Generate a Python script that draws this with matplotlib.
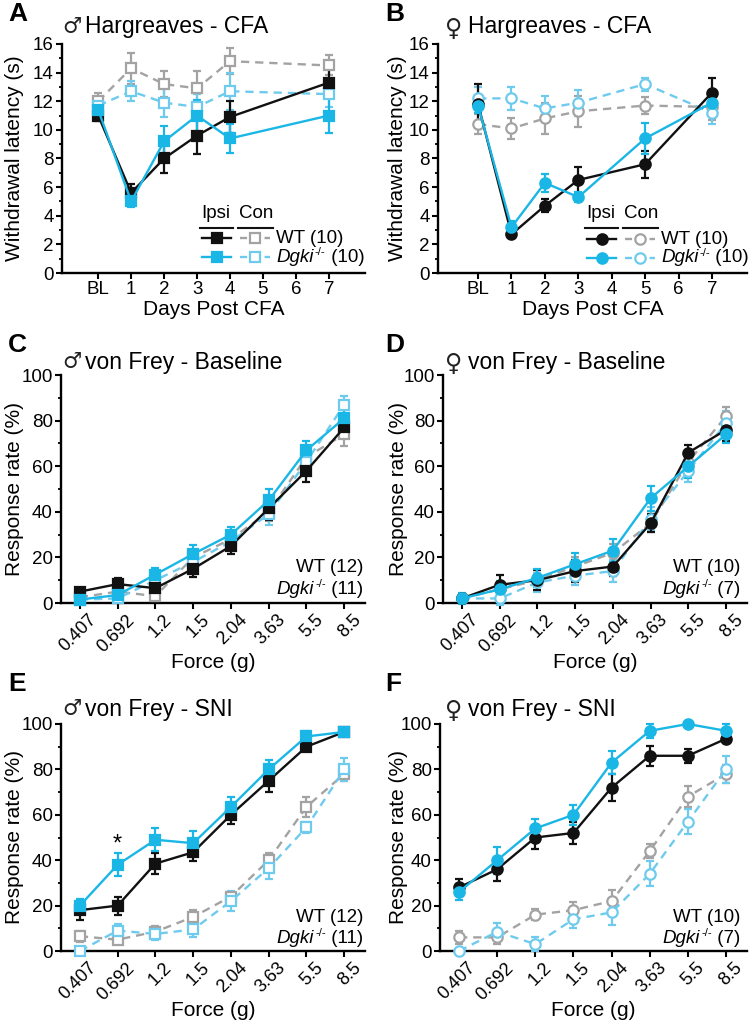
import numpy as np
import matplotlib
matplotlib.use('Agg')
import matplotlib.pyplot as plt
from matplotlib.lines import Line2D
from matplotlib.ticker import MultipleLocator
from matplotlib.transforms import ScaledTranslation

plt.rcParams['font.family'] = ['Liberation Sans', 'DejaVu Sans']

# ---- data ----
day_ticks = [0, 1, 2, 3, 4, 5, 6, 7]
day_labels = ['BL', '1', '2', '3', '4', '5', '6', '7']
days_a = [0, 1, 2, 3, 4, 7]
days_b = [0, 1, 2, 3, 5, 7]
forces = ['0.407', '0.692', '1.2', '1.5', '2.04', '3.63', '5.5', '8.5']

# A: male Hargreaves CFA
a_ipsi_wt = [11.0, 5.6, 8.0, 9.6, 10.9, 13.3]
a_ipsi_wt_err = [0.4, 0.6, 1.0, 1.3, 1.1, 1.1]
a_ipsi_ko = [11.4, 5.0, 9.2, 11.0, 9.4, 11.0]
a_ipsi_ko_err = [0.5, 0.4, 1.1, 1.1, 1.0, 1.2]
a_con_wt = [12.0, 14.3, 13.2, 12.9, 14.8, 14.5]
a_con_wt_err = [0.6, 1.1, 0.9, 1.2, 0.9, 0.7]
a_con_ko = [11.7, 12.7, 11.9, 11.6, 12.7, 12.5]
a_con_ko_err = [0.5, 0.7, 1.0, 0.9, 1.3, 0.9]

# B: female Hargreaves CFA
b_ipsi_wt = [11.8, 2.7, 4.7, 6.5, 7.6, 12.6]
b_ipsi_wt_err = [1.4, 0.2, 0.45, 0.9, 0.95, 1.0]
b_ipsi_ko = [11.7, 3.2, 6.3, 5.3, 9.4, 11.9]
b_ipsi_ko_err = [0.5, 0.4, 0.65, 0.35, 1.1, 0.8]
b_con_wt = [10.4, 10.1, 10.8, 11.3, 11.7, 11.6]
b_con_wt_err = [0.7, 0.75, 1.1, 1.1, 0.6, 0.9]
b_con_ko = [12.2, 12.2, 11.5, 11.9, 13.2, 11.2]
b_con_ko_err = [0.8, 0.8, 0.9, 0.9, 0.45, 0.8]

# C: male von Frey baseline
c_ipsi_wt = [5, 8.3, 6.5, 15, 25, 41.5, 58, 77]
c_ipsi_wt_err = [1.5, 2.5, 3, 3.5, 3.5, 5, 5, 4]
c_ipsi_ko = [1.5, 3.5, 12.5, 21.5, 30, 45, 67, 81]
c_ipsi_ko_err = [1.5, 3, 3, 4, 3.5, 5, 4, 4]
c_con_wt = [2.5, 5, 3, 20, 28, 40, 64, 74]
c_con_wt_err = [2, 2, 2, 3, 3, 4, 5, 5]
c_con_ko = [1.5, 2, 10, 18, 27, 39, 62, 87]
c_con_ko_err = [1.5, 2, 3, 3, 3, 5, 5, 4]

# D: female von Frey baseline
d_ipsi_wt = [2, 8, 10, 14, 16, 35, 66, 76]
d_ipsi_wt_err = [2, 4.5, 4.5, 5, 4, 4, 3.5, 5]
d_ipsi_ko = [2, 6, 11, 17, 23, 46, 60, 74]
d_ipsi_ko_err = [2.5, 3.5, 4, 5, 5, 5.5, 5, 4]
d_con_wt = [2, 6, 10, 16, 22, 35, 62, 82]
d_con_wt_err = [2, 3, 3, 4, 4, 4, 5, 4]
d_con_ko = [2, 2, 9, 12, 14, 37, 58, 79]
d_con_ko_err = [2, 3, 4, 4, 5, 5, 5, 5]

# E: male von Frey SNI
e_ipsi_wt = [18, 20, 38.5, 43.5, 60, 75, 90, 96.5]
e_ipsi_wt_err = [4.5, 4, 4.5, 4, 4, 5, 2, 1.5]
e_ipsi_ko = [20, 38, 49, 47.5, 63.5, 80, 94.5, 96.5]
e_ipsi_ko_err = [3, 5, 5, 5.5, 4.5, 4, 2.5, 1.5]
e_con_wt = [6.5, 5, 8.5, 15, 24, 40, 63.5, 78]
e_con_wt_err = [2.5, 2, 2.5, 3, 2, 3, 4.5, 3]
e_con_ko = [0, 9, 7.5, 9.5, 22, 36.5, 54.5, 80]
e_con_ko_err = [0, 3, 2.5, 3.5, 4.5, 5, 2.5, 5]

# F: female von Frey SNI
f_ipsi_wt = [28, 36, 50, 52, 72, 86, 86, 93.5]
f_ipsi_wt_err = [3.5, 5, 5, 5, 6, 4.5, 3, 2]
f_ipsi_ko = [26, 40, 54, 60, 83, 97, 100, 97]
f_ipsi_ko_err = [3.5, 6, 4, 4.5, 5, 3, 0, 3]
f_con_wt = [6, 6, 16, 18, 22, 44, 68, 78]
f_con_wt_err = [3, 3, 2.5, 3.5, 5, 3, 4.5, 4]
f_con_ko = [0, 8.5, 3, 14, 17, 34, 57, 80]
f_con_ko_err = [0, 4, 3, 4, 5.5, 5.5, 5.5, 6]

BLACK = '#111111'
CYAN = '#1ab7e6'
GRAY = '#a3a3a3'
LBLUE = '#6fcbee'

W, H = 750, 1022
fig = plt.figure(figsize=(W / 100, H / 100), dpi=100)
renderer = fig.canvas.get_renderer()


def rect(l, t, r, b):
    return [l / W, 1 - b / H, (r - l) / W, (b - t) / H]


def fx(x):
    return x / W


def fy(y):
    return 1 - y / H


def series(ax, x, y, err, color, marker, dashed=False, hollow=False):
    ax.errorbar(x, y, yerr=err, color=color, linestyle='--' if dashed else '-',
                linewidth=1.7, marker=marker, markersize=7 if marker == 's' else 7.5,
                markerfacecolor='white' if hollow else color, markeredgecolor=color,
                markeredgewidth=1.6, capsize=3.2, elinewidth=1.6, capthick=1.6,
                dashes=(3.5, 2.5) if dashed else (None, None), clip_on=False, zorder=3)


def style_axes(ax, ylim, major, minor, ylab_x):
    ax.spines['top'].set_visible(False)
    ax.spines['right'].set_visible(False)
    for s in ('left', 'bottom'):
        ax.spines[s].set_linewidth(1.7)
    ax.set_ylim(*ylim)
    ax.yaxis.set_major_locator(MultipleLocator(major))
    ax.yaxis.set_minor_locator(MultipleLocator(minor))
    ax.tick_params(axis='both', which='major', labelsize=13.5, width=1.5, length=4,
                   direction='out', pad=2)
    ax.tick_params(axis='y', which='minor', width=1.3, length=2.5, direction='out')
    ax.yaxis.set_label_coords(ylab_x, 0.5)


def cfa_panel(r, x, ipsi_wt, ipsi_wt_e, ipsi_ko, ipsi_ko_e, con_wt, con_wt_e, con_ko, con_ko_e,
              marker, xlim, ylab_x):
    ax = fig.add_axes(rect(*r))
    series(ax, x, con_wt, con_wt_e, GRAY, marker, dashed=True, hollow=True)
    series(ax, x, con_ko, con_ko_e, LBLUE, marker, dashed=True, hollow=True)
    series(ax, x, ipsi_wt, ipsi_wt_e, BLACK, marker)
    series(ax, x, ipsi_ko, ipsi_ko_e, CYAN, marker)
    ax.set_ylabel('Withdrawal latency (s)', fontsize=15)
    ax.set_xlabel('Days Post CFA', fontsize=15, labelpad=1)
    style_axes(ax, (0, 16), 2, 1, ylab_x)
    ax.set_xlim(*xlim)
    ax.set_xticks(day_ticks)
    ax.set_xticklabels(day_labels)
    return ax


def vf_panel(r, ipsi_wt, ipsi_wt_e, ipsi_ko, ipsi_ko_e, con_wt, con_wt_e, con_ko, con_ko_e,
             marker, ylab_x):
    ax = fig.add_axes(rect(*r))
    x = np.arange(len(forces))
    series(ax, x, con_wt, con_wt_e, GRAY, marker, dashed=True, hollow=True)
    series(ax, x, con_ko, con_ko_e, LBLUE, marker, dashed=True, hollow=True)
    series(ax, x, ipsi_wt, ipsi_wt_e, BLACK, marker)
    series(ax, x, ipsi_ko, ipsi_ko_e, CYAN, marker)
    ax.set_ylabel('Response rate (%)', fontsize=15)
    ax.set_xlabel('Force (g)', fontsize=15, labelpad=-1.5)
    style_axes(ax, (0, 100), 20, 10, ylab_x)
    ax.set_xlim(-0.5, 7.55)
    ax.set_xticks(x)
    ax.set_xticklabels(forces, rotation=45, ha='right', va='top', rotation_mode='anchor',
                       fontsize=13)
    shift = ScaledTranslation(0.08, 0.0, fig.dpi_scale_trans)
    for lab in ax.get_xticklabels():
        lab.set_transform(lab.get_transform() + shift)
    return ax


def ko_text(x, y, n, ha='left', size=13.5):
    # italic gene name with small raised -/- and the n in brackets
    parts = [fig.text(0, fy(y), 'Dgki', style='italic', fontsize=size, va='center'),
             fig.text(0, fy(y - 5), '-/-', fontsize=size * 0.6, va='center'),
             fig.text(0, fy(y), ' ({})'.format(n), fontsize=size, va='center')]
    widths = [p.get_window_extent(renderer).width for p in parts]
    gaps = [0, 1.5, 0]
    total = sum(widths) + sum(gaps)
    x0 = x - total if ha == 'right' else x
    for p, w, g in zip(parts, widths, gaps):
        x0 += g
        p.set_x(fx(x0))
        x0 += w


def cfa_legend(x0, y_head, y1, y2, marker, wt_n, ko_n):
    def seg(xa, xb, y, c, dashed, hollow):
        fig.add_artist(Line2D([fx(xa), fx(xb)], [fy(y), fy(y)], color=c, lw=1.7,
                              linestyle='--' if dashed else '-',
                              dashes=(3, 2.2) if dashed else (None, None)))
        fig.add_artist(Line2D([fx((xa + xb) / 2)], [fy(y)], marker=marker, markersize=7.5,
                              markerfacecolor='white' if hollow else c, markeredgecolor=c,
                              markeredgewidth=1.6, linestyle='none'))
    fig.text(fx(x0 + 16), fy(y_head), 'Ipsi', ha='center', va='center', fontsize=13.5)
    fig.text(fx(x0 + 56), fy(y_head), 'Con', ha='center', va='center', fontsize=13.5)
    fig.add_artist(Line2D([fx(x0), fx(x0 + 33)], [fy(y_head + 15)] * 2, color=BLACK, lw=1.5))
    fig.add_artist(Line2D([fx(x0 + 38), fx(x0 + 73)], [fy(y_head + 15)] * 2, color=BLACK, lw=1.5))
    seg(x0 + 2, x0 + 31, y1, BLACK, False, False)
    seg(x0 + 40, x0 + 70, y1, GRAY, True, True)
    seg(x0 + 2, x0 + 31, y2, CYAN, False, False)
    seg(x0 + 40, x0 + 70, y2, LBLUE, True, True)
    fig.text(fx(x0 + 76), fy(y1), 'WT ({})'.format(wt_n), ha='left', va='center', fontsize=13.5)
    ko_text(x0 + 76, y2, ko_n)


def n_text(xr, y1, y2, wt_n, ko_n):
    fig.text(fx(xr), fy(y1), 'WT ({})'.format(wt_n), ha='right', va='center', fontsize=13.5)
    ko_text(xr, y2, ko_n, ha='right')


# Panels
cfa_panel((62, 44, 365, 273), days_a, a_ipsi_wt, a_ipsi_wt_err, a_ipsi_ko, a_ipsi_ko_err,
          a_con_wt, a_con_wt_err, a_con_ko, a_con_ko_err, 's', (-1.1, 8.1), -0.125)
cfa_panel((438, 44, 747, 273), days_b, b_ipsi_wt, b_ipsi_wt_err, b_ipsi_ko, b_ipsi_ko_err,
          b_con_wt, b_con_wt_err, b_con_ko, b_con_ko_err, 'o', (-1.2, 8.05), -0.10)
vf_panel((61, 375, 365, 603), c_ipsi_wt, c_ipsi_wt_err, c_ipsi_ko, c_ipsi_ko_err,
         c_con_wt, c_con_wt_err, c_con_ko, c_con_ko_err, 's', -0.122)
vf_panel((443, 375, 747, 603), d_ipsi_wt, d_ipsi_wt_err, d_ipsi_ko, d_ipsi_ko_err,
         d_con_wt, d_con_wt_err, d_con_ko, d_con_ko_err, 'o', -0.115)
ax_e = vf_panel((61, 724, 365, 951), e_ipsi_wt, e_ipsi_wt_err, e_ipsi_ko, e_ipsi_ko_err,
                e_con_wt, e_con_wt_err, e_con_ko, e_con_ko_err, 's', -0.122)
vf_panel((440, 724, 747, 951), f_ipsi_wt, f_ipsi_wt_err, f_ipsi_ko, f_ipsi_ko_err,
         f_con_wt, f_con_wt_err, f_con_ko, f_con_ko_err, 'o', -0.105)

ax_e.text(1, 47, '*', ha='center', va='center', fontsize=17)

# legends
cfa_legend(200, 213, 238, 257, 's', 10, 10)
cfa_legend(585, 213, 239, 258, 'o', 10, 10)
n_text(363, 568, 589, 12, 11)
n_text(740, 567, 589, 10, 7)
n_text(363, 917, 938, 12, 11)
n_text(740, 917, 938, 10, 7)

# titles and panel letters
titles = [(62, 27, '\u2642', 'Hargreaves - CFA'), (445, 27, '\u2640', 'Hargreaves - CFA'),
          (62, 362, '\u2642', 'von Frey - Baseline'), (445, 362, '\u2640', 'von Frey - Baseline'),
          (62, 709, '\u2642', 'von Frey - SNI'), (445, 709, '\u2640', 'von Frey - SNI')]
for x, y, sym, t in titles:
    male = sym == '\u2642'
    fig.text(fx(x), fy(y + (0 if male else 2)), sym, ha='left', va='center',
             fontsize=15.5 if male else 17, family='DejaVu Sans', color='#222222')
    fig.text(fx(x + 23), fy(y), t, ha='left', va='center', fontsize=16.5)

letters = [(8, 14, 'A'), (385, 14, 'B'), (8, 345, 'C'), (385, 345, 'D'), (8, 684, 'E'), (385, 684, 'F')]
for x, y, t in letters:
    fig.text(fx(x), fy(y), t, ha='left', va='center', fontsize=19, fontweight='bold')

fig.savefig('out.png', dpi=100)
